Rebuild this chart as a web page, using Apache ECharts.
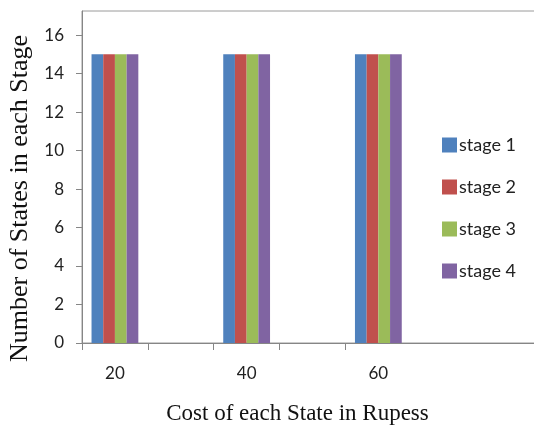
<!DOCTYPE html>
<html>
<head>
<meta charset="utf-8">
<script src="https://cdn.jsdelivr.net/npm/echarts@6/dist/echarts.min.js"></script>
<style>
html,body{margin:0;padding:0;background:#fff;}
#chart{width:534px;height:435px;}
</style>
</head>
<body>
<div id="chart"></div>
<script>
const categories = ['20', '', '40', '', '60', '', ''];
const seriesNames = ['stage 1', 'stage 2', 'stage 3', 'stage 4'];
const stage1 = [15, null, 15, null, 15, null, null];
const stage2 = [15, null, 15, null, 15, null, null];
const stage3 = [15, null, 15, null, 15, null, null];
const stage4 = [15, null, 15, null, 15, null, null];
const yTicks = [0, 2, 4, 6, 8, 10, 12, 14, 16];
const yMax = 17.25;
const colors = ['#4F81BD', '#C0504D', '#9BBB59', '#8064A2'];

const chart = echarts.init(document.getElementById('chart'), null, {renderer: 'canvas'});
const labelFont = 'Lato, "Open Sans", sans-serif';
const seriesData = [stage1, stage2, stage3, stage4];

chart.setOption({
  animation: false,
  color: colors,
  grid: {
    left: 82, top: 11, width: 461, bottom: 92,
    show: true, borderColor: '#9a9a9a', borderWidth: 1,
    containLabel: false,
    outerBoundsMode: 'none'
  },
  legend: {
    orient: 'vertical',
    left: 442, top: 136,
    padding: 0,
    itemWidth: 15, itemHeight: 15, itemGap: 24,
    icon: 'rect',
    textStyle: {fontSize: 18, fontFamily: labelFont, color: '#222', padding: [0, 0, 0, -3]},
    data: seriesNames
  },
  xAxis: {
    type: 'category',
    data: categories,
    axisLine: {lineStyle: {color: '#868686', width: 1}},
    axisTick: {show: true, length: 7, lineStyle: {color: '#868686'}, interval: function (i) { return i <= 4; }},
    axisLabel: {interval: 0, fontSize: 17, fontFamily: labelFont, color: '#222', margin: 22},
    name: 'Cost of each State in Rupess',
    nameLocation: 'middle',
    nameGap: 59,
    nameTextStyle: {fontSize: 23, fontFamily: '"Liberation Serif", "Times New Roman", serif', color: '#111', padding: [0, 30, 0, 0]}
  },
  yAxis: {
    type: 'value',
    min: 0, max: yMax,
    axisLine: {show: true, lineStyle: {color: '#868686', width: 1}},
    axisTick: {show: true, length: 6, lineStyle: {color: '#868686'}, customValues: yTicks},
    axisLabel: {fontSize: 17, fontFamily: labelFont, color: '#222', margin: 18, customValues: yTicks},
    splitLine: {show: false},
    name: 'Number of States in each Stage',
    nameLocation: 'middle',
    nameGap: 41,
    nameTextStyle: {fontSize: 26, fontFamily: '"Liberation Serif", "Times New Roman", serif', color: '#111', padding: [0, 43, 0, 0]}
  },
  series: seriesNames.map((n, i) => ({
    name: n,
    type: 'bar',
    data: seriesData[i],
    barWidth: 11.7,
    barGap: '0%'
  }))
});
</script>
</body>
</html>
